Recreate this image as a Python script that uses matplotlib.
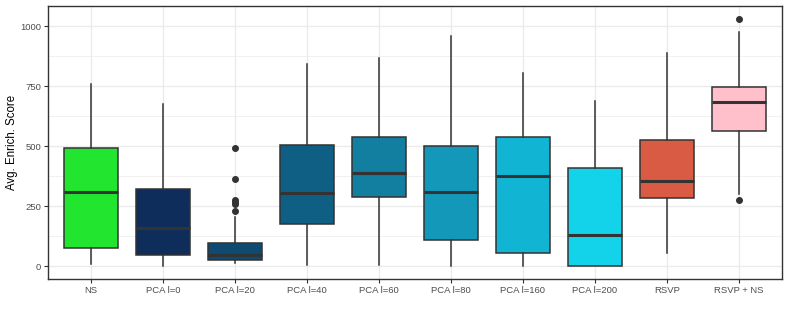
import matplotlib.pyplot as plt
from matplotlib.ticker import MultipleLocator

plt.rcParams['font.family'] = ['Liberation Sans', 'DejaVu Sans']

groups = ["NS", "PCA l=0", "PCA l=20", "PCA l=40", "PCA l=60", "PCA l=80",
          "PCA l=160", "PCA l=200", "RSVP", "RSVP + NS"]
whisk_lo = [8, 0, 15, 5, 5, 0, 0, 0, 54, 303]
q1 = [78, 47, 28, 177, 288, 109, 54, 0, 285, 563]
med = [312, 160, 46, 307, 389, 308, 378, 129, 357, 686]
q3 = [494, 321, 98, 506, 541, 503, 538, 410, 528, 748]
whisk_hi = [762, 675, 206, 842, 869, 959, 806, 689, 891, 976]
outliers = [[], [], [494, 365, 278, 268, 261, 230], [], [], [], [], [], [], [1032, 278]]
colors = ["#22E52F", "#0F2D5B", "#0E4A72", "#0F5F85", "#127EA0", "#1398BA",
          "#11B5D3", "#13D3EA", "#D95B43", "#FFC0CB"]

stats = []
for i in range(len(groups)):
    stats.append({"label": groups[i], "whislo": whisk_lo[i], "q1": q1[i], "med": med[i],
                  "q3": q3[i], "whishi": whisk_hi[i], "fliers": outliers[i]})

fig = plt.figure(figsize=(7.89, 3.16), dpi=100)
ax = fig.add_axes([0.061, 0.116, 0.930, 0.865])

edge = "#333333"
bp = ax.bxp(stats, positions=range(1, len(groups) + 1), widths=0.75, patch_artist=True,
            showcaps=False,
            boxprops=dict(edgecolor=edge, linewidth=1.1),
            medianprops=dict(color=edge, linewidth=2.2),
            whiskerprops=dict(color=edge, linewidth=1.1),
            flierprops=dict(marker="o", markerfacecolor=edge, markeredgecolor=edge,
                            markersize=4, linestyle="none"),
            zorder=3)
for patch, c in zip(bp["boxes"], colors):
    patch.set_facecolor(c)

ax.set_xlim(0.4, len(groups) + 0.6)
ax.set_ylim(-54, 1085)
ax.yaxis.set_major_locator(MultipleLocator(250))
ax.yaxis.set_minor_locator(MultipleLocator(125))
ax.set_xticks(range(1, len(groups) + 1))
ax.set_xticklabels(groups)
ax.grid(which="major", color="#EBEBEB", linewidth=1.0, zorder=0)
ax.grid(which="minor", axis="y", color="#EBEBEB", linewidth=0.5, zorder=0)
ax.set_axisbelow(True)
ax.tick_params(axis="both", which="major", labelsize=6.8, labelcolor="#4D4D4D",
               color="#333333", length=3, width=0.8, pad=2)
ax.tick_params(axis="y", which="minor", length=0)
for s in ax.spines.values():
    s.set_color("#333333")
    s.set_linewidth(1.0)
ax.set_ylabel("Avg. Enrich. Score", fontsize=8.3, labelpad=1.5)

fig.savefig("out.png", dpi=100)
